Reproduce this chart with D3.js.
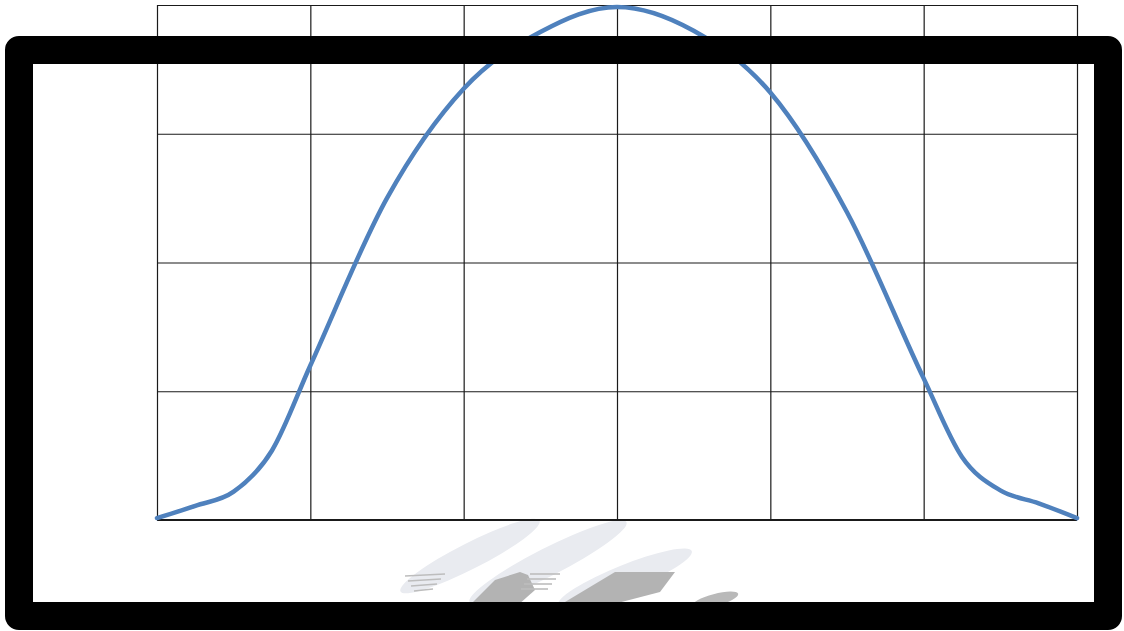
<!DOCTYPE html>
<html>
<head>
<meta charset="utf-8">
<script src="https://cdn.jsdelivr.net/npm/d3@7"></script>
<style>
  html, body { margin: 0; padding: 0; background: #ffffff; }
  svg { display: block; }
</style>
</head>
<body>
<div id="chart"></div>
<script>
// grid positions (columns / rows of the plot)
const xTicks = [0, 1, 2, 3, 4, 5, 6];
const yTicks = [0, 1, 2, 3, 4];

// curve samples (denser in the tails)
const xValues = [0, 0.25, 0.5, 0.75, 1, 1.5, 2, 2.5, 3, 3.5, 4, 4.5, 5, 5.25, 5.5, 5.75, 6];
const yValues = [0.015, 0.11, 0.22, 0.54, 1.2, 2.5, 3.35, 3.79, 3.985, 3.8, 3.32, 2.39, 1.1, 0.49, 0.23, 0.13, 0.015];

const width = 1124;
const height = 631;
const margin = { top: 5, right: 47, bottom: 111, left: 157 };
const innerWidth = width - margin.left - margin.right;
const innerHeight = height - margin.top - margin.bottom;

const svg = d3
  .select("#chart")
  .append("svg")
  .attr("width", width)
  .attr("height", height);

const x = d3.scaleLinear().domain([0, 6]).range([margin.left, margin.left + innerWidth]);
const y = d3.scaleLinear().domain([0, 4]).range([margin.top + innerHeight, margin.top]);

// faint logo-like watermark under the plot
const mark = svg.append("g").attr("class", "watermark");
const blobs = [
  { cx: 470, cy: 556, rx: 78, ry: 13, a: -27, c: "#e9ebf0" },
  { cx: 548, cy: 562, rx: 88, ry: 14, a: -27, c: "#e9ebf0" },
  { cx: 625, cy: 578, rx: 72, ry: 13, a: -22, c: "#e9ebf0" },
  { cx: 715, cy: 600, rx: 24, ry: 6, a: -15, c: "#b9b9b9" }
];
mark
  .selectAll("ellipse")
  .data(blobs)
  .enter()
  .append("ellipse")
  .attr("cx", (d) => d.cx)
  .attr("cy", (d) => d.cy)
  .attr("rx", (d) => d.rx)
  .attr("ry", (d) => d.ry)
  .attr("fill", (d) => d.c)
  .attr("transform", (d) => `rotate(${d.a},${d.cx},${d.cy})`);
mark
  .append("path")
  .attr("d", "M470,605 L495,580 L520,572 L528,575 L535,590 L518,605 Z")
  .attr("fill", "#b3b3b3");
mark
  .append("path")
  .attr("d", "M560,605 L615,572 L675,572 L660,592 L610,605 Z")
  .attr("fill", "#b3b3b3");
[574, 579, 584, 589].forEach((yy, i) => {
  mark
    .append("line")
    .attr("x1", 405 + i * 3)
    .attr("x2", 445 - i * 4)
    .attr("y1", yy + 2)
    .attr("y2", yy)
    .attr("stroke", "#bdbdbd")
    .attr("stroke-width", 1.6);
  mark
    .append("line")
    .attr("x1", 530 - i * 3)
    .attr("x2", 560 - i * 4)
    .attr("y1", yy)
    .attr("y2", yy)
    .attr("stroke", "#bdbdbd")
    .attr("stroke-width", 1.6);
});

// vertical grid lines
svg
  .append("g")
  .attr("transform", `translate(0,${margin.top})`)
  .call(d3.axisBottom(x).tickValues(xTicks).tickSize(innerHeight).tickFormat(""))
  .call((g) => g.select(".domain").remove())
  .selectAll("line")
  .attr("stroke", "#1a1a1a")
  .attr("stroke-width", 1.2);

// horizontal grid lines
svg
  .append("g")
  .attr("transform", `translate(${margin.left},0)`)
  .call(d3.axisRight(y).tickValues(yTicks).tickSize(innerWidth).tickFormat(""))
  .call((g) => g.select(".domain").remove())
  .selectAll("line")
  .attr("stroke", "#1a1a1a")
  .attr("stroke-width", 1.2);

// bottom axis line a bit heavier
svg
  .append("line")
  .attr("x1", x(0))
  .attr("x2", x(6))
  .attr("y1", y(0))
  .attr("y2", y(0))
  .attr("stroke", "#1a1a1a")
  .attr("stroke-width", 2);

// the smoothed curve
const points = xValues.map((v, i) => ({ x: v, y: yValues[i] }));
svg
  .append("path")
  .datum(points)
  .attr("fill", "none")
  .attr("stroke", "#4f81bd")
  .attr("stroke-width", 4.5)
  .attr("stroke-linecap", "round")
  .attr(
    "d",
    d3
      .line()
      .curve(d3.curveMonotoneX)
      .x((d) => x(d.x))
      .y((d) => y(d.y))
  );

// heavy black frame on top
svg
  .append("rect")
  .attr("x", 19)
  .attr("y", 50)
  .attr("width", 1089)
  .attr("height", 566)
  .attr("fill", "none")
  .attr("stroke", "#000000")
  .attr("stroke-width", 28)
  .attr("stroke-linejoin", "round");
</script>
</body>
</html>
